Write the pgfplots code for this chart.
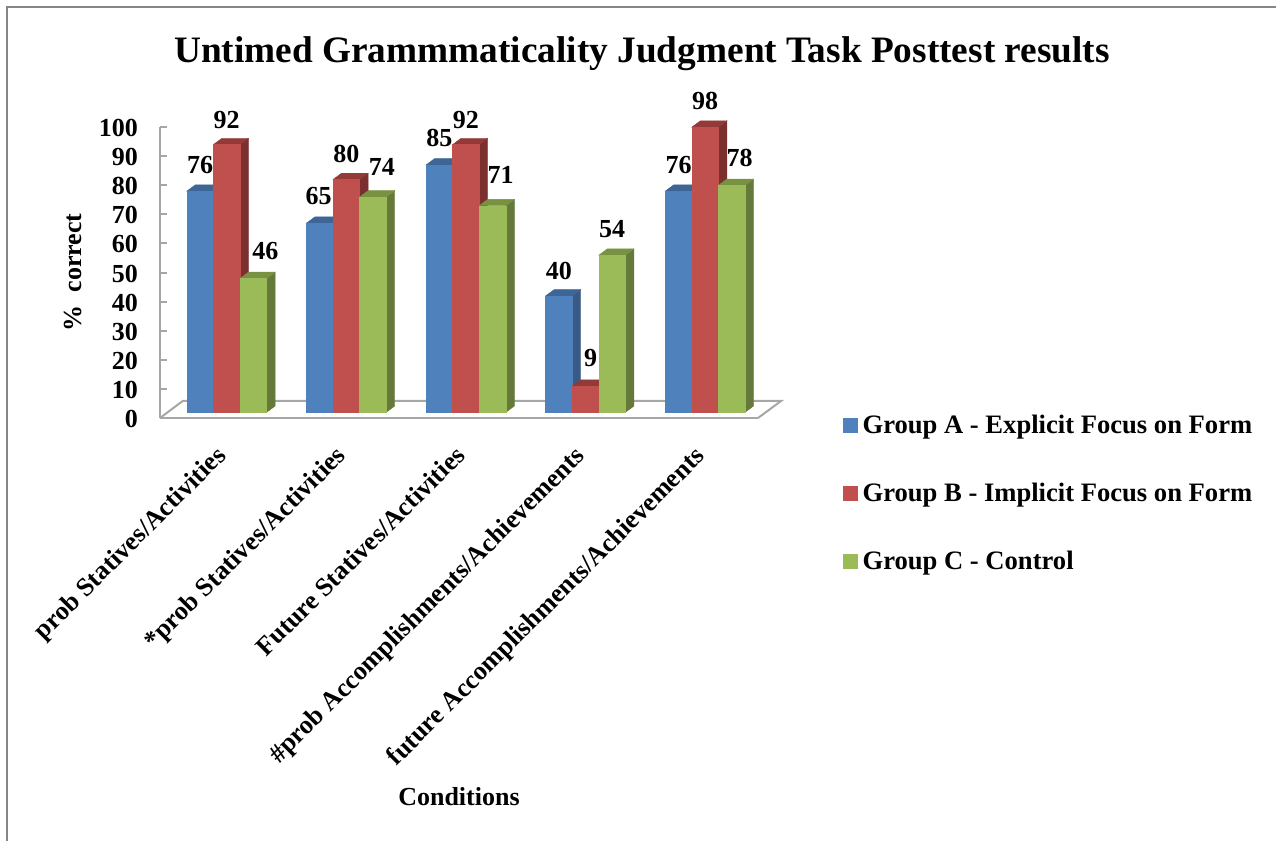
\documentclass[border=0pt]{standalone}
\usepackage{fontspec}
\setmainfont{Liberation Serif}
\usepackage{pgfplots}
\usepackage{pgfplotstable}
\pgfplotsset{compat=1.18}

\definecolor{frameg}{HTML}{868686}
\definecolor{axisg}{HTML}{A6A6A6}
\definecolor{blueF}{HTML}{4F81BD}
\definecolor{blueS}{HTML}{385A85}
\definecolor{blueT}{HTML}{3D6596}
\definecolor{redF}{HTML}{C0504D}
\definecolor{redS}{HTML}{7B2F2E}
\definecolor{redT}{HTML}{933A38}
\definecolor{greenF}{HTML}{9BBB59}
\definecolor{greenS}{HTML}{657A3A}
\definecolor{greenT}{HTML}{789242}

% per group: value, then offset of the value label from the bar top centre
\pgfplotstableread{
x v dx dy
0 76 0 26
1 65 -1 27
2 85 0 27
3 40 0 25
4 76 0 26
}\groupA
\pgfplotstableread{
x v dx dy
0 92 0 25
1 80 0 26
2 92 0 25
3 9 5 28
4 98 0 26
}\groupB
\pgfplotstableread{
x v dx dy
0 46 12 27
1 74 9 30
2 71 8 31
3 54 0 26
4 78 8 27
}\groupC

\pgfdeclareplotmark{noface}{}

\pgfplotsset{
  % one bar per point: side, top and front hung from the front top centre
  bar3d/.style n args={4}{
    forget plot, only marks, scatter, mark=noface, xshift=#1pt, yshift=5.7pt,
    visualization depends on={rawy \as \barval},
    scatter/@pre marker code/.code={%
      \pgfmathsetmacro\barh{\barval*2.91}%
      \fill[#3] (13.3pt,0pt) -- (21.8pt,6.3pt) -- (21.8pt,6.3pt-\barh pt) -- (13.3pt,-\barh pt) -- cycle;%
      \fill[#4] (-13.3pt,0pt) -- (-4.8pt,6.3pt) -- (21.8pt,6.3pt) -- (13.3pt,0pt) -- cycle;%
      \fill[#2] (-13.3pt,0pt) rectangle (13.3pt,-\barh pt);%
    },
    scatter/@post marker code/.code={},
  },
  % the value written above a bar
  bar value/.style={
    forget plot, only marks, mark=noface, xshift=#1pt, yshift=5.7pt,
    visualization depends on={\thisrow{dx} \as \labdx},
    visualization depends on={\thisrow{dy} \as \labdy},
    nodes near coords,
    nodes near coords style={anchor=center, xshift=\labdx pt, yshift=\labdy pt,
      text=black, font=\bfseries\fontsize{26}{30}\selectfont, inner sep=0pt,
      /pgf/number format/assume math mode=true},
  },
}

\begin{document}
\begin{tikzpicture}[x=1pt,y=1pt]
\path[use as bounding box] (0,0) rectangle (1276,-841);
\draw[frameg,line width=2pt] (6.6,-841) -- (6.6,-6.6) -- (1276,-6.6);
\begin{axis}[
  at={(160pt,-418pt)}, anchor=south west,
  scale only axis, width=598pt, height=291pt,
  clip=false,
  xmin=-0.558, xmax=4.442, ymin=0, ymax=100,
  axis y line*=left, axis x line*=bottom,
  axis line style={axisg,line width=2pt},
  ytick={0,10,...,100},
  xtick={0,1,2,3,4},
  xticklabels={prob Statives/Activities,*prob Statives/Activities,Future Statives/Activities,\#prob Accomplishments/Achievements,future Accomplishments/Achievements},
  major tick length=7pt,
  ytick style={axisg,line width=2pt},
  xtick style={draw=none},
  /pgf/number format/assume math mode=true,
  yticklabel style={font=\bfseries\fontsize{26}{30}\selectfont, anchor=east, inner sep=0pt, xshift=-22pt, yshift=-1pt},
  xticklabel style={font=\bfseries\fontsize{26.2}{30}\selectfont, rotate=45, anchor=north east, inner sep=0pt, xshift=-27.25pt, yshift=-9.84pt},
  title={Untimed Grammmaticality Judgment Task Posttest results},
  title style={font=\bfseries\fontsize{37.3}{42}\selectfont, at={(axis description cs:0.806,1.2306)}, anchor=center, inner sep=0pt},
  ylabel={\%\ \ correct},
  ylabel style={font=\bfseries\fontsize{26}{30}\selectfont, at={(axis description cs:-0.145,0.5)}, anchor=center, rotate=0, inner sep=0pt},
  xlabel={Conditions},
  xlabel style={font=\bfseries\fontsize{26}{30}\selectfont, at={(axis description cs:0.5,-1.302)}, anchor=center, inner sep=0pt},
  legend style={at={(axis description cs:1.1421,0.018)}, anchor=north west, draw=none, fill=none, inner sep=0pt,
    font=\bfseries\fontsize{26.6}{30}\selectfont, row sep=44pt},
  legend cell align=left,
  legend image code/.code={\fill[#1] (0pt,-7pt) rectangle (14pt,7pt); \path (17pt,0pt);},
]
% the floor of the plot
\draw[axisg,line width=2pt] (axis description cs:0,0) -- (axis description cs:0.038,0.0585)
  -- (axis description cs:1.0385,0.0585) -- (axis description cs:1,0);

\addplot[bar3d={-26.6}{blueF}{blueS}{blueT}] table[x=x,y=v] {\groupA};
\addplot[bar3d={0}{redF}{redS}{redT}] table[x=x,y=v] {\groupB};
\addplot[bar3d={26.6}{greenF}{greenS}{greenT}] table[x=x,y=v] {\groupC};

\addplot[bar value=-26.6] table[x=x,y=v] {\groupA};
\addplot[bar value=0] table[x=x,y=v] {\groupB};
\addplot[bar value=26.6] table[x=x,y=v] {\groupC};

\addlegendimage{blueF}\addlegendentry{Group A - Explicit Focus on Form}
\addlegendimage{redF}\addlegendentry{Group B - Implicit Focus on Form}
\addlegendimage{greenF}\addlegendentry{Group C - Control}
\end{axis}
\end{tikzpicture}
\end{document}
